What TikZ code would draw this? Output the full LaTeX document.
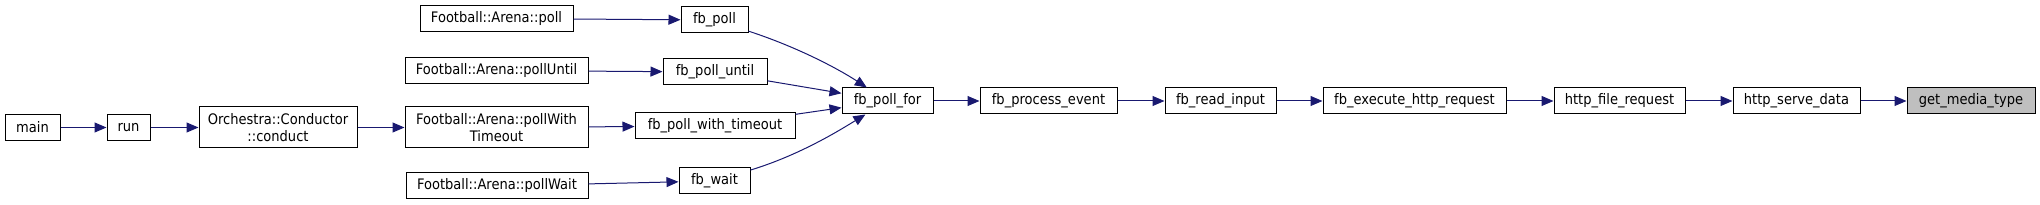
\documentclass[tikz,border=0pt]{standalone}
\usepackage{fontspec}
\newfontfamily\gfont[FakeStretch=0.9]{DejaVu Sans}
\usetikzlibrary{arrows.meta}
\definecolor{edgeblue}{HTML}{191970}
\definecolor{hilite}{HTML}{BFBFBF}
\begin{document}
\begin{tikzpicture}[x=1pt,y=-1pt,
  fn/.style={draw=black,line width=1pt,fill=white,inner sep=0pt,minimum height=26pt,
     font=\gfont\fontsize{14.5pt}{17pt}\selectfont,align=center},
  fntwo/.style={fn,minimum height=41pt},
  edge/.style={draw=edgeblue,line width=1pt,-{Triangle[length=12pt,width=10pt]}}]
\useasboundingbox (0,0) rectangle (2040,205);
% nodes
\node[fn,minimum width=55pt] (main) at (32.5,127.5) {main};
\node[fn,minimum width=43pt] (run) at (128.5,127.5) {run};
\node[fntwo,minimum width=158pt] (conduct) at (278,127.5) {Orchestra::Conductor\\::conduct};
\node[fn,minimum width=153pt] (fapoll) at (496.5,18.5) {Football::Arena::poll};
\node[fn,minimum width=183pt] (fauntil) at (496.5,70.5) {Football::Arena::pollUntil};
\node[fntwo,minimum width=183pt] (fatimeout) at (496.5,127.5) {Football::Arena::pollWith\\Timeout};
\node[fn,minimum width=182pt] (fawait) at (497,186) {Football::Arena::pollWait};
\node[fn,minimum width=67pt] (fbpoll) at (714.5,20) {fb\_poll};
\node[fn,minimum width=104pt] (fbuntil) at (715,72) {fb\_poll\_until};
\node[fn,minimum width=160pt] (fbtimeout) at (715,126) {fb\_poll\_with\_timeout};
\node[fn,minimum width=71pt] (fbwait) at (714.5,181) {fb\_wait};
\node[fn,minimum width=91pt] (fbfor) at (887.5,101) {fb\_poll\_for};
\node[fn,minimum width=137pt] (procev) at (1048.5,101) {fb\_process\_event};
\node[fn,minimum width=111pt] (readin) at (1220.5,101) {fb\_read\_input};
\node[fn,minimum width=183pt] (exec) at (1414.5,101) {fb\_execute\_http\_request};
\node[fn,minimum width=131pt] (fileq) at (1619.5,101) {http\_file\_request};
\node[fn,minimum width=127pt] (serve) at (1796.5,101) {http\_serve\_data};
\node[fn,minimum width=128pt,fill=hilite] (media) at (1971,101) {get\_media\_type};
% edges
\draw[edge] (main) -- (run);
\draw[edge] (run) -- (conduct);
\draw[edge] (conduct) -- (fatimeout);
\draw[edge] (fapoll) -- (fbpoll);
\draw[edge] (fauntil) -- (fbuntil);
\draw[edge] (fatimeout) -- (fbtimeout);
\draw[edge] (fawait) -- (fbwait);
\draw[edge] (fbpoll) .. controls (800,48) and (840,70) .. (fbfor);
\draw[edge] (fbuntil) -- (fbfor);
\draw[edge] (fbtimeout) -- (fbfor);
\draw[edge] (fbwait) .. controls (800,155) and (840,130) .. (fbfor);
\draw[edge] (fbfor) -- (procev);
\draw[edge] (procev) -- (readin);
\draw[edge] (readin) -- (exec);
\draw[edge] (exec) -- (fileq);
\draw[edge] (fileq) -- (serve);
\draw[edge] (serve) -- (media);
\end{tikzpicture}
\end{document}
